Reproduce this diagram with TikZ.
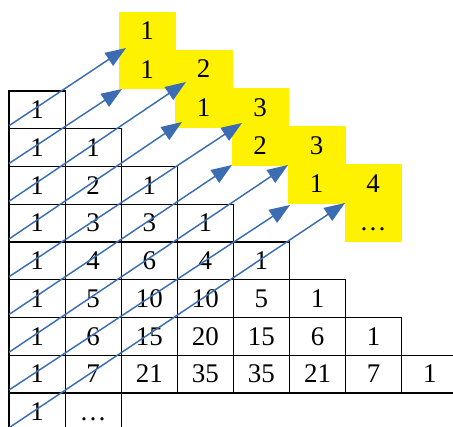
\documentclass[tikz,border=0pt]{standalone}
\usepackage{fontspec}
\setmainfont{Liberation Serif}
\usepackage{xcolor}
\usetikzlibrary{positioning,arrows.meta}
\definecolor{fibyellow}{HTML}{FFF200}
\definecolor{diagblue}{HTML}{3C6DB3}
\tikzset{
  every node/.style={font=\fontsize{23}{26}\selectfont},
  cell/.style={
    rectangle, draw=black, line width=0.9pt,
    minimum width=1.683cm, minimum height=1.1325cm,
    inner sep=0pt, text height=15pt, text depth=0pt
  },
  fibcell/.style={
    rectangle, fill=fibyellow, draw=fibyellow, line width=0.3pt,
    minimum width=1.695cm, minimum height=1.152cm,
    inner sep=0pt, text height=15pt, text depth=0pt
  },
  diag/.style={
    -{Triangle[length=0.62cm,width=0.46cm]},
    line width=1.25pt, draw=diagblue
  },
}
\begin{document}
\begin{tikzpicture}[x=0.03cm, y=-0.03cm]
  \useasboundingbox (0,0) rectangle (453,427);
  \clip (0,0) rectangle (453,427);
  \foreach \m/\up/\dn in {0/1/1, 1/2/1, 2/3/2, 3/3/1, 4/4/\ldots} {
    \pgfmathsetmacro{\fx}{147+56.5*\m}
    \pgfmathsetmacro{\fy}{31+38.2*\m}
    \node[fibcell] (fib-\m-up) at (\fx,\fy) {\up};
    \node[fibcell] (fib-\m-dn) at (\fx,\fy+38.4) {\dn};
  }
  \foreach \r/\vals in {0/{1}, 1/{1,1}, 2/{1,2,1}, 3/{1,3,3,1}, 4/{1,4,6,4,1},
      5/{1,5,10,10,5,1}, 6/{1,6,15,20,15,6,1}, 7/{1,7,21,35,35,21,7,1}, 8/{1,\ldots}}
    \foreach \v [count=\c from 0] in \vals {
      \node[cell] (cell-\r-\c) at (37.05+56.1*\c, 109.875+37.75*\r) {\v};
    }
  \foreach \k/\tx/\ty in {1/126/48, 2/122/89, 3/186/82, 4/182/122, 5/242/123,
      6/232/165, 7/288/165, 8/290/205, 9/345/203} {
    \coordinate (from-\k) at (9, 91+37.75*\k-3);
    \coordinate (to-\k) at (\tx,\ty);
    \draw[diag] (from-\k) -- (to-\k);
  }
\end{tikzpicture}
\end{document}
